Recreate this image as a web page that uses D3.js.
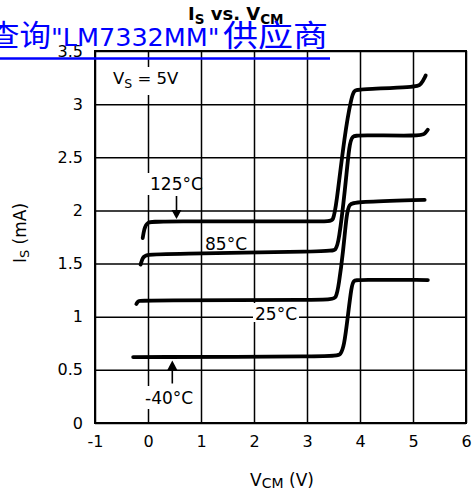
<!DOCTYPE html>
<html>
<head>
<meta charset="utf-8">
<script src="https://cdn.jsdelivr.net/npm/d3@7"></script>
<style>
  body { margin: 0; background: #fff; }
  svg { display: block; font-family: "DejaVu Sans", sans-serif; }
</style>
</head>
<body>
<div class="chart"></div>
<script>
// tick values
var xTicks = [-1, 0, 1, 2, 3, 4, 5, 6];
var yTicks = [0, 0.5, 1, 1.5, 2, 2.5, 3, 3.5];

// curves: VCM (V) and IS (mA)
var v125 = [-0.1, -0.07, -0.02, 0.15, 3.42, 3.49, 3.55, 3.71, 3.84, 3.89, 3.97, 5.05, 5.15, 5.24];
var i125 = [1.74, 1.83, 1.89, 1.90, 1.895, 1.90, 2.03, 2.72, 3.07, 3.13, 3.14, 3.16, 3.18, 3.27];

var v85 = [-0.14, -0.1, -0.03, 0.3, 3.45, 3.54, 3.6, 3.72, 3.8, 3.86, 3.96, 5.15, 5.22, 5.28];
var i85 = [1.49, 1.56, 1.585, 1.59, 1.615, 1.625, 1.70, 2.2, 2.64, 2.70, 2.71, 2.70, 2.72, 2.76];

var v25 = [-0.22, -0.18, -0.1, 3.45, 3.55, 3.6, 3.68, 3.75, 3.8, 3.9, 5.22];
var i25 = [1.12, 1.15, 1.155, 1.155, 1.17, 1.3, 1.6, 1.98, 2.06, 2.08, 2.10];

var vm40 = [-0.28, 3.55, 3.63, 3.7, 3.77, 3.84, 3.88, 3.95, 5.28];
var im40 = [0.62, 0.625, 0.64, 0.72, 1.0, 1.29, 1.34, 1.35, 1.345];

var svgWidth = 473;
var svgHeight = 497;
var margin = { top: 51, right: 7, bottom: 74, left: 95 };
var width = svgWidth - margin.left - margin.right;
var height = svgHeight - margin.top - margin.bottom;

var svg = d3.select(".chart")
  .append("svg")
  .attr("width", svgWidth)
  .attr("height", svgHeight);

var chartGroup = svg.append("g")
  .attr("transform", `translate(${margin.left}, ${margin.top})`);

// Scales
var xScale = d3.scaleLinear().domain([-1, 6]).range([0, width]);
var yScale = d3.scaleLinear().domain([0, 3.5]).range([height, 0]);

// Axis + grid
var bottomAxis = d3.axisBottom(xScale)
  .tickValues(xTicks)
  .tickSizeInner(-height)
  .tickSizeOuter(0)
  .tickPadding(13)
  .tickFormat(d => String(d));

var leftAxis = d3.axisLeft(yScale)
  .tickValues(yTicks)
  .tickSizeInner(-width)
  .tickSizeOuter(0)
  .tickPadding(12)
  .tickFormat(d => String(d));

var gx = chartGroup.append("g")
  .attr("transform", `translate(0, ${height})`)
  .call(bottomAxis);
var gy = chartGroup.append("g")
  .call(leftAxis);

[gx, gy].forEach(function(g) {
  g.select(".domain").remove();
  g.selectAll(".tick line").attr("stroke", "#000").attr("stroke-width", 1.5);
  g.selectAll(".tick text")
    .attr("fill", "#000")
    .style("font-family", "DejaVu Sans")
    .style("font-size", "16px");
});

// white patches behind the in-plot labels
var patches = [
  [110, 67, 76, 28],   // VS = 5V
  [144, 173, 55, 22],  // 125°C
  [253, 303, 46, 19],  // 25°C
  [142, 386, 54, 23]   // -40°C
];
svg.append("g").selectAll("rect")
  .data(patches)
  .enter()
  .append("rect")
  .attr("x", d => d[0])
  .attr("y", d => d[1])
  .attr("width", d => d[2])
  .attr("height", d => d[3])
  .attr("fill", "#fff");

// frame
chartGroup.append("rect")
  .attr("width", width)
  .attr("height", height)
  .attr("fill", "none")
  .attr("stroke", "#000")
  .attr("stroke-width", 2);

// Curves
var series = [
  [v125, i125],
  [v85, i85],
  [v25, i25],
  [vm40, im40]
];

var line = d3.line()
  .x(d => xScale(d[0]))
  .y(d => yScale(d[1]))
  .curve(d3.curveBasis);

chartGroup.selectAll(".curve")
  .data(series)
  .enter()
  .append("path")
  .attr("class", "curve")
  .attr("d", s => line(d3.zip(s[0], s[1])))
  .attr("fill", "none")
  .attr("stroke", "#000")
  .attr("stroke-width", 3.8)
  .attr("stroke-linecap", "round")
  .attr("stroke-linejoin", "round");

// Curve labels
var labelFont = "17px";
svg.append("text").attr("x", 150).attr("y", 189.5).style("font-size", labelFont).text("125°C");
svg.append("text").attr("x", 205).attr("y", 249.5).style("font-size", labelFont).text("85°C");
svg.append("text").attr("x", 255).attr("y", 319.5).style("font-size", labelFont).text("25°C");
svg.append("text").attr("x", 145).attr("y", 403.5).style("font-size", labelFont).text("-40°C");

// Arrows
svg.append("line").attr("x1", 176.5).attr("y1", 196).attr("x2", 176.5).attr("y2", 211)
  .attr("stroke", "#000").attr("stroke-width", 1.6);
svg.append("path").attr("d", "M171.5,210 L181.5,210 L176.5,219 Z").attr("fill", "#000");

svg.append("line").attr("x1", 172.3).attr("y1", 383.5).attr("x2", 172.3).attr("y2", 369)
  .attr("stroke", "#000").attr("stroke-width", 1.6);
svg.append("path").attr("d", "M167.3,370 L177.3,370 L172.3,360.5 Z").attr("fill", "#000");

// VS = 5V
var vs = svg.append("text").attr("x", 113).attr("y", 83.5).style("font-size", "16.5px");
vs.append("tspan").text("V");
vs.append("tspan").attr("dy", 4).style("font-size", "12.5px").text("S");
vs.append("tspan").attr("dy", -4).text(" = 5V");

// Axis titles
var xt = svg.append("text")
  .attr("x", 282).attr("y", 486)
  .attr("text-anchor", "middle")
  .style("font-size", "17px");
xt.append("tspan").text("V");
xt.append("tspan").attr("dy", 2).style("font-size", "14px").text("CM");
xt.append("tspan").attr("dy", -2).text(" (V)");

var yt = svg.append("text")
  .attr("transform", "translate(26, 233) rotate(-90)")
  .attr("text-anchor", "middle")
  .style("font-size", "17px");
yt.append("tspan").text("I");
yt.append("tspan").attr("dy", 3).style("font-size", "13px").text("S");
yt.append("tspan").attr("dy", -3).text(" (mA)");

// Title
var title = svg.append("text")
  .attr("x", 188).attr("y", 19.8)
  .style("font-family", "DejaVu Sans")
  .style("font-weight", "bold")
  .style("font-size", "18px");
title.append("tspan").text("I");
title.append("tspan").attr("dy", 4).style("font-size", "13.5px").text("S");
title.append("tspan").attr("dy", -4).text(" vs. V");
title.append("tspan").attr("dy", 4).style("font-size", "13.5px").text("CM");

// Blue link overlay
var blue = "#0000ff";
var link = svg.append("g").attr("fill", blue);
link.append("text")
  .attr("x", -12).attr("y", 46)
  .attr("textLength", 63).attr("lengthAdjust", "spacingAndGlyphs")
  .style("font-family", "Noto Sans CJK SC")
  .style("font-size", "30px")
  .text("查询");
link.append("text")
  .attr("x", 51).attr("y", 46)
  .style("font-family", "DejaVu Sans")
  .style("font-size", "25.5px")
  .text("\"LM7332MM\"");
link.append("text")
  .attr("x", 223).attr("y", 46)
  .attr("textLength", 105).attr("lengthAdjust", "spacingAndGlyphs")
  .style("font-family", "Noto Sans CJK SC")
  .style("font-size", "30px")
  .text("供应商");
svg.append("line")
  .attr("x1", 0).attr("x2", 330)
  .attr("y1", 58.5).attr("y2", 58.5)
  .attr("stroke", blue)
  .attr("stroke-width", 2.5);
</script>
</body>
</html>
